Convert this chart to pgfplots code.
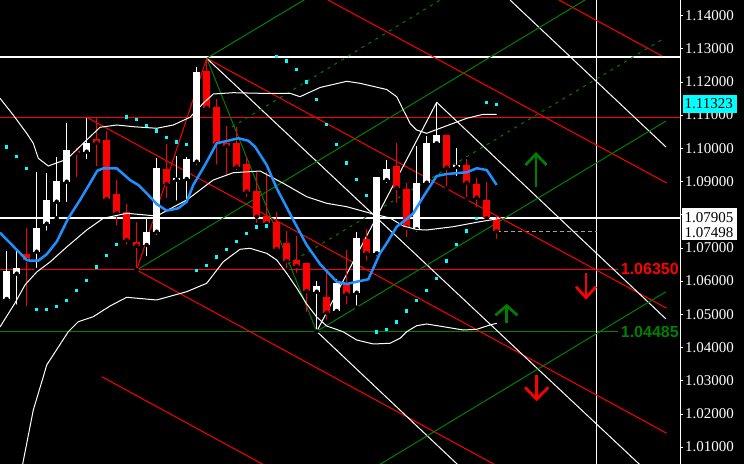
\documentclass[border=0pt]{standalone}
\usepackage{fontspec}
\setmainfont{Liberation Serif}
\newfontfamily\labfont{Liberation Sans}
\usepackage{pgfplots}
\pgfplotsset{compat=1.18}
\usepackage{pgfplotstable}
\definecolor{mtred}{RGB}{255,0,0}
\definecolor{mtgreen}{RGB}{0,128,0}
\definecolor{mtblue}{RGB}{30,144,255}
\definecolor{mtcyan}{RGB}{0,255,255}
\definecolor{mtgrey}{RGB}{160,160,160}

% bullish candles: bar index, open, high, low, close
\pgfplotstableread{
x o h l c
0 1.05461 1.06907 1.05371 1.06304
1 1.06223 1.06907 1.05229 1.06404
3 1.06886 1.09295 1.06334 1.07609
4 1.07729 1.09265 1.07458 1.08452
5 1.08392 1.09738 1.07892 1.09024
6 1.08994 1.10771 1.08322 1.09949
8 1.09898 1.10922 1.09618 1.10169
14 1.07087 1.07871 1.06687 1.07488
15 1.07488 1.09699 1.07337 1.09416
17 1.09054 1.09768 1.08362 1.09115
18 1.09075 1.09729 1.08392 1.09678
19 1.09597 1.12458 1.09446 1.12298
31 1.05681 1.05988 1.04485 1.05853
33 1.05100 1.06063 1.05080 1.05943
35 1.05651 1.07488 1.05199 1.07307
37 1.06837 1.09150 1.06687 1.09136
38 1.09045 1.09648 1.08895 1.09377
41 1.07560 1.10084 1.07419 1.08946
42 1.08964 1.10371 1.08895 1.10169
43 1.10151 1.11386 1.10069 1.10395
45 1.09437 1.10009 1.09106 1.09488
}\bull

% bearish candles
\pgfplotstableread{
x o h l c
2 1.06816 1.07609 1.05181 1.06636
7 1.09919 1.10018 1.09075 1.09859
9 1.10280 1.10922 1.09398 1.10169
10 1.10250 1.10530 1.08413 1.08473
11 1.08624 1.09045 1.07609 1.08042
12 1.08081 1.08322 1.07036 1.07238
13 1.07187 1.07789 1.06334 1.07066
16 1.09377 1.10121 1.08443 1.08925
20 1.12328 1.12711 1.11072 1.11223
21 1.11244 1.11476 1.09446 1.10139
22 1.10169 1.10672 1.09145 1.10069
23 1.10160 1.10642 1.09286 1.09446
24 1.09527 1.09738 1.08473 1.08693
25 1.08714 1.09286 1.07690 1.07940
26 1.07961 1.09295 1.07690 1.07741
27 1.07789 1.08081 1.06862 1.06967
28 1.07157 1.07509 1.06334 1.06606
29 1.06636 1.07359 1.06184 1.06455
30 1.06536 1.06545 1.05009 1.05702
32 1.05530 1.06304 1.04777 1.05048
34 1.05934 1.06937 1.05229 1.05612
36 1.07259 1.07560 1.06554 1.06837
39 1.09467 1.10160 1.08292 1.08813
40 1.08774 1.08955 1.07259 1.07615
44 1.10401 1.10410 1.08795 1.09416
46 1.09497 1.09672 1.08464 1.08964
47 1.08925 1.09115 1.08172 1.08512
48 1.08443 1.08985 1.07841 1.07892
49 1.07862 1.08006 1.07208 1.07498
}\bear

\begin{document}
\begin{tikzpicture}
\fill[black] (0,0) rectangle (744bp,464bp);
\begin{axis}[
  at={(0,0)}, anchor=south west, scale only axis,
  width=680bp, height=464bp,
  xmin=-0.67, xmax=67.33, ymin=1.00491, ymax=1.14467,
  hide x axis, axis y line*=right,
  y axis line style={white, line width=1bp, -},
  ytick={1.01,1.02,1.03,1.04,1.05,1.06,1.07,1.08,1.09,1.10,1.11,1.12,1.13,1.14},
  yticklabels={1.01000,1.02000,1.03000,1.04000,1.05000,1.06000,1.07000,,1.09000,1.10000,1.11000,1.12000,1.13000,1.14000},
  tick align=outside, major tick length=3bp,
  ytick style={white, line width=0.8bp},
  yticklabel style={text=white, font=\fontsize{15bp}{16bp}\selectfont,
    anchor=west, inner sep=0pt, xshift=2bp},
  clip mode=individual,
]
% ---------- objects: horizontal / vertical lines ----------
\addplot[white, line width=2bp] coordinates {(-0.67,1.12750) (67.33,1.12750)};
\addplot[mtred, line width=1bp] coordinates {(-0.67,1.10934) (67.33,1.10934)};
\addplot[white, line width=1.3bp] coordinates {(-0.67,1.07905) (67.33,1.07905)};
\addplot[mtred, line width=1bp] coordinates {(-0.67,1.06350) (61.13,1.06350)};
\addplot[mtgreen, line width=1bp] coordinates {(-0.67,1.04485) (61.13,1.04485)};
\addplot[white, line width=1bp] coordinates {(59.0,1.00491) (59.0,1.14467)};
\addplot[mtgrey, line width=1bp, dash pattern=on 4bp off 3bp] coordinates {(49.0,1.07498) (59.0,1.07498)};
% ---------- red parallel channel ----------
\addplot[mtred, line width=1bp] coordinates {(55.23,1.14467) (65.53,1.12780)};
\addplot[mtred, line width=1bp] coordinates {(32.13,1.14467) (66.0,1.08955)};
\addplot[mtred, line width=1bp] coordinates {(20.0,1.12711) (66.0,1.05181)};
\addplot[mtred, line width=1bp] coordinates {(8.0,1.10934) (66.0,1.01416)};
\addplot[mtred, line width=1bp] coordinates {(13.0,1.06334) (49.33,1.00386)};
\addplot[mtred, line width=1bp] coordinates {(9.5,1.03121) (25.83,1.00446)};
% ---------- white parallel channel ----------
\addplot[white, line width=1bp] coordinates {(50.33,1.14467) (65.93,1.10039)};
\addplot[white, line width=1bp] coordinates {(43.0,1.11386) (65.93,1.04859)};
\addplot[white, line width=1bp] coordinates {(20.0,1.12711) (64.0,1.00277)};
\addplot[white, line width=1bp] coordinates {(31.0,1.04485) (45.33,1.00407)};
% ---------- green parallel channel ----------
\addplot[mtgreen, line width=1bp] coordinates {(20.0,1.12711) (30.0,1.14518)};
\addplot[mtgreen, line width=1bp] coordinates {(13.0,1.06334) (58.0,1.14497)};
\addplot[mtgreen, line width=1bp] coordinates {(31.0,1.04485) (65.93,1.10822)};
\addplot[mtgreen, line width=1bp] coordinates {(37.0,1.00421) (65.93,1.05681)};
\addplot[mtgreen, line width=1bp, dash pattern=on 3bp off 5bp] coordinates {(28.13,1.06515) (65.63,1.13292)};
\addplot[mtgreen, line width=1bp, dash pattern=on 3bp off 5bp] coordinates {(22.53,1.10642) (43.83,1.14557)};
% ---------- zigzag ----------
\addplot[mtred, line width=1bp] coordinates {(13.0,1.06334) (20.0,1.12711)};
\addplot[mtgreen, line width=1bp] coordinates {(20.0,1.12711) (31.0,1.04485)};
\addplot[white, line width=1bp] coordinates {(31.0,1.04485) (43.0,1.11386)};
% ---------- candles ----------
\addplot[only marks, mark=none, error bars/.cd, y dir=plus, y explicit, error mark=none,
  error bar style={draw=white, line width=1bp, solid}]
  table[x=x, y=l, y error expr=\thisrow{h}-\thisrow{l}] {\bull};
\addplot[only marks, mark=none, error bars/.cd, y dir=plus, y explicit, error mark=none,
  error bar style={draw=white, line width=7bp, solid}]
  table[x=x, y=o, y error expr=\thisrow{c}-\thisrow{o}] {\bull};
\addplot[only marks, mark=none, error bars/.cd, y dir=plus, y explicit, error mark=none,
  error bar style={draw=mtred, line width=1bp, solid}]
  table[x=x, y=l, y error expr=\thisrow{h}-\thisrow{l}] {\bear};
\addplot[only marks, mark=none, error bars/.cd, y dir=plus, y explicit, error mark=none,
  error bar style={draw=mtred, line width=7bp, solid}]
  table[x=x, y=c, y error expr=\thisrow{o}-\thisrow{c}] {\bear};
% ---------- Bollinger bands ----------
\addplot[white, line width=1bp] coordinates {
(-0.67,1.11506) (0.66,1.11000) (2.0,1.10452) (2.66,1.10151) (3.16,1.09699) (4.16,1.09467)
(6.0,1.09669) (8.0,1.10250) (9.33,1.10633) (11.0,1.10702) (12.66,1.10651) (15.0,1.10603)
(16.66,1.10702) (18.33,1.10934) (19.66,1.11356) (20.66,1.11636) (22.66,1.11675) (25.33,1.11657)
(28.33,1.11657) (29.33,1.11554) (31.33,1.11831) (34.0,1.12018) (35.33,1.11958) (38.0,1.11771)
(39.0,1.11554) (39.66,1.11154) (40.33,1.10753) (41.0,1.10551) (42.0,1.10452) (43.33,1.10603)
(46.0,1.10904) (47.66,1.11024) (49.0,1.11024)};
\addplot[white, line width=1bp] coordinates {
(-0.67,1.04618) (0.83,1.05340) (1.83,1.05883) (3.0,1.06274) (4.33,1.06575) (6.0,1.07027)
(8.0,1.07539) (9.66,1.07892) (12.0,1.08042) (15.0,1.07961) (18.0,1.08443) (20.66,1.09045)
(22.66,1.09265) (25.33,1.09316) (27.66,1.08946) (30.0,1.08542) (32.0,1.08343) (34.0,1.08241)
(36.66,1.08021) (38.33,1.07901) (39.66,1.07660) (41.0,1.07554) (42.0,1.07539) (44.66,1.07639)
(47.33,1.07789) (49.0,1.07871)};
\addplot[white, line width=1bp] coordinates {
(1.48,1.00310) (2.66,1.02118) (3.66,1.03121) (4.0,1.03473) (6.16,1.04476) (7.16,1.04777)
(8.66,1.04928) (10.33,1.05250) (12.0,1.05512) (15.0,1.05431) (18.0,1.05681) (20.0,1.05934)
(21.66,1.06584) (23.33,1.06958) (24.33,1.06988) (26.0,1.06837) (27.0,1.06636) (28.0,1.06235)
(29.0,1.05792) (30.0,1.05310) (31.0,1.04919) (32.0,1.04648) (33.63,1.04476) (35.0,1.04226)
(36.66,1.04106) (38.33,1.04127) (39.33,1.04277) (40.0,1.04476) (41.0,1.04657) (42.0,1.04708)
(43.66,1.04627) (45.66,1.04527) (47.0,1.04548) (48.33,1.04678) (49.0,1.04729)};
% ---------- moving average ----------
\addplot[mtblue, line width=2.5bp, line join=round] coordinates {
(-0.67,1.07458) (2.0,1.06636) (2.33,1.06615) (3.16,1.06615) (4.0,1.06807) (5.0,1.07187)
(6.16,1.07892) (7.33,1.08443) (8.33,1.08946) (9.06,1.09325) (9.66,1.09398) (11.0,1.09398)
(12.33,1.09045) (13.16,1.08895) (14.16,1.08594) (15.0,1.08322) (16.0,1.08121) (17.16,1.08193)
(18.0,1.08392) (18.66,1.08895) (19.83,1.09497) (21.0,1.10151) (22.16,1.10229) (23.16,1.10301)
(24.16,1.10229) (24.83,1.10048) (26.0,1.09497) (27.0,1.08795) (28.66,1.07841) (30.0,1.07087)
(31.33,1.06515) (33.0,1.05982) (34.0,1.05913) (35.0,1.05982) (36.16,1.06054) (37.33,1.06837)
(38.0,1.07139) (39.0,1.07639) (40.0,1.07871) (40.66,1.08042) (41.66,1.08542) (43.0,1.09166)
(44.0,1.09226) (46.0,1.09277) (47.0,1.09398) (48.0,1.09347) (49.0,1.08895)};
% ---------- parabolic SAR ----------
\addplot[only marks, mark=square*, mark size=1.1bp, mtcyan] coordinates {
(-0.07,1.10048) (0.93,1.09768) (1.93,1.09407) (2.93,1.05160) (3.93,1.05160) (4.93,1.05250)
(5.93,1.05431) (6.93,1.05732) (7.93,1.06033) (8.93,1.06434) (9.93,1.06786) (10.93,1.07118)
(11.93,1.10952) (12.93,1.10883) (13.93,1.10702) (14.93,1.10530) (15.93,1.10331) (16.93,1.10199)
(17.93,1.10130) (18.93,1.06334) (19.93,1.06485) (20.93,1.06735) (21.93,1.06967) (22.93,1.07208)
(23.93,1.07434) (24.93,1.07639) (25.93,1.07669) (26.93,1.12780) (27.93,1.12639) (28.93,1.12389)
(29.93,1.12006) (30.93,1.11470) (31.93,1.10732) (32.93,1.10130) (33.93,1.09566) (34.93,1.09066)
(35.93,1.08594) (36.93,1.04476) (37.93,1.04557) (38.93,1.04777) (39.93,1.05109) (40.93,1.05416)
(41.93,1.05717) (42.93,1.06084) (43.93,1.06615) (44.93,1.07103) (45.93,1.07518) (46.93,1.07901)
(47.93,1.11395) (48.93,1.11335)};
% ---------- arrows ----------
\addplot[mtgreen, line width=2.7bp] coordinates {(52.93,1.08844) (52.93,1.09790)};
\addplot[mtgreen, line width=2.7bp] coordinates {(51.88,1.09497) (52.93,1.09830) (53.98,1.09497)};
\addplot[mtgreen, line width=2.7bp] coordinates {(50.0,1.04729) (50.0,1.05230)};
\addplot[mtgreen, line width=2.7bp] coordinates {(48.87,1.04970) (50.0,1.05260) (51.07,1.04970)};
\addplot[mtred, line width=2.7bp] coordinates {(57.93,1.06235) (57.93,1.05540)};
\addplot[mtred, line width=2.7bp] coordinates {(56.93,1.05831) (57.93,1.05500) (58.93,1.05831)};
\addplot[mtred, line width=2.7bp] coordinates {(53.0,1.03172) (53.0,1.02470)};
\addplot[mtred, line width=2.7bp] coordinates {(51.83,1.02801) (53.0,1.02440) (54.16,1.02801)};
% ---------- level labels ----------
\node[anchor=west, inner sep=0pt, text=mtred, font=\labfont\bfseries\fontsize{16bp}{18bp}\selectfont]
  at (axis cs:61.4,1.06370) {1.06350};
\node[anchor=west, inner sep=0pt, text=mtgreen, font=\labfont\bfseries\fontsize{16bp}{18bp}\selectfont]
  at (axis cs:61.4,1.04470) {1.04485};
\end{axis}
% price tags on the scale
\fill[mtcyan] (682.7bp,351.3bp) rectangle (736.7bp,369bp);
\node[anchor=west, inner sep=0pt, text=black, font=\fontsize{15bp}{16bp}\selectfont] at (684.5bp,360bp) {1.11323};
\fill[white] (682bp,239.7bp) rectangle (737bp,255.7bp);
\node[anchor=west, inner sep=0pt, text=black, font=\fontsize{15bp}{16bp}\selectfont] at (684.5bp,246.8bp) {1.07905};
\fill[white] (682bp,224bp) rectangle (737bp,239.7bp);
\node[anchor=west, inner sep=0pt, text=black, font=\fontsize{15bp}{16bp}\selectfont] at (684.5bp,231.7bp) {1.07498};
\pgfresetboundingbox
\path[use as bounding box] (0,0) rectangle (744bp,464bp);
\end{tikzpicture}
\end{document}
